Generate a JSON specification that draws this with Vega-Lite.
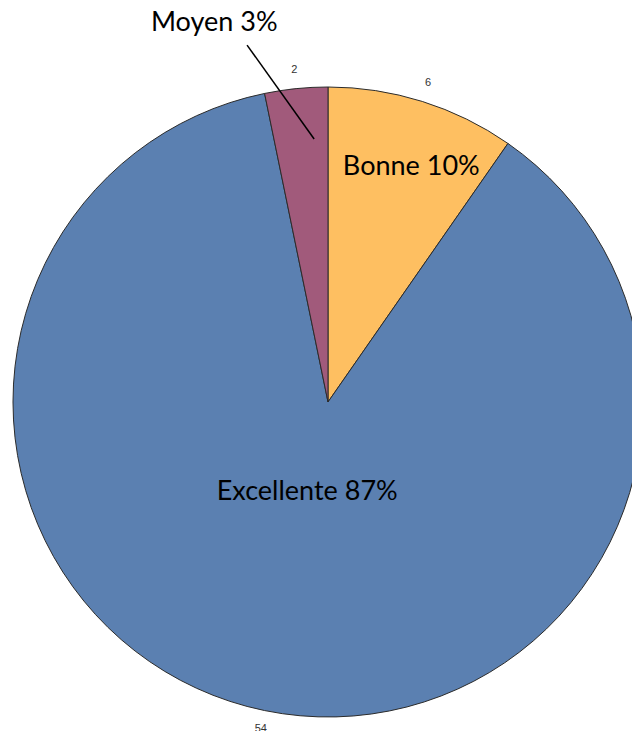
{
  "$schema": "https://vega.github.io/schema/vega-lite/v6.json",
  "width": 656,
  "height": 804,
  "autosize": {"type": "none"},
  "padding": 0,
  "background": "white",
  "config": {"view": {"stroke": null}},
  "data": {"values": [
    {"category": "Bonne", "value": 6, "label": "Bonne 10%", "ord": 1},
    {"category": "Excellente", "value": 54, "label": "Excellente 87%", "ord": 2},
    {"category": "Moyen", "value": 2, "label": "Moyen 3%", "ord": 3}
  ]},
  "encoding": {
    "theta": {"field": "value", "type": "quantitative", "stack": true},
    "order": {"field": "ord", "type": "quantitative"}
  },
  "layer": [
    {
      "mark": {"type": "arc", "outerRadius": 315, "stroke": "#2b2b2b", "strokeWidth": 1},
      "encoding": {
        "color": {"field": "category", "type": "nominal",
          "scale": {"domain": ["Bonne", "Excellente", "Moyen"], "range": ["#FEBF61", "#5B80B1", "#A15A7B"]},
          "legend": null}
      }
    },
    {
      "mark": {"type": "text", "radius": 334, "font": "Liberation Sans", "fontSize": 11, "color": "#333333", "baseline": "middle", "align": "center"},
      "encoding": {"text": {"field": "value", "type": "quantitative"}}
    },
    {
      "mark": {"type": "text", "radius": 249, "thetaOffset": 0.037, "font": "Lato", "fontSize": 27, "color": "#000000", "baseline": "middle", "align": "center"},
      "encoding": {"text": {"condition": {"test": "datum.category === 'Bonne'", "field": "label"}, "value": ""}}
    },
    {
      "mark": {"type": "text", "radius": 92, "thetaOffset": 0.025, "font": "Lato", "fontSize": 27, "color": "#000000", "baseline": "middle", "align": "center"},
      "encoding": {"text": {"condition": {"test": "datum.category === 'Excellente'", "field": "label"}, "value": ""}}
    },
    {
      "mark": {"type": "text", "radius": 396, "thetaOffset": -0.19, "font": "Lato", "fontSize": 27, "color": "#000000", "baseline": "middle", "align": "center"},
      "encoding": {"text": {"condition": {"test": "datum.category === 'Moyen'", "field": "label"}, "value": ""}}
    },
    {
      "data": {"values": [{"x": -0.257, "y": 1.133, "x2": -0.044, "y2": 0.835}]},
      "mark": {"type": "rule", "color": "#000000", "strokeWidth": 1.5},
      "encoding": {
        "theta": null,
        "order": null,
        "x": {"field": "x", "type": "quantitative", "scale": {"domain": [-1.0413, 1.0413]}, "axis": null},
        "x2": {"field": "x2"},
        "y": {"field": "y", "type": "quantitative", "scale": {"domain": [-1.2762, 1.2762]}, "axis": null},
        "y2": {"field": "y2"}
      }
    }
  ]
}
